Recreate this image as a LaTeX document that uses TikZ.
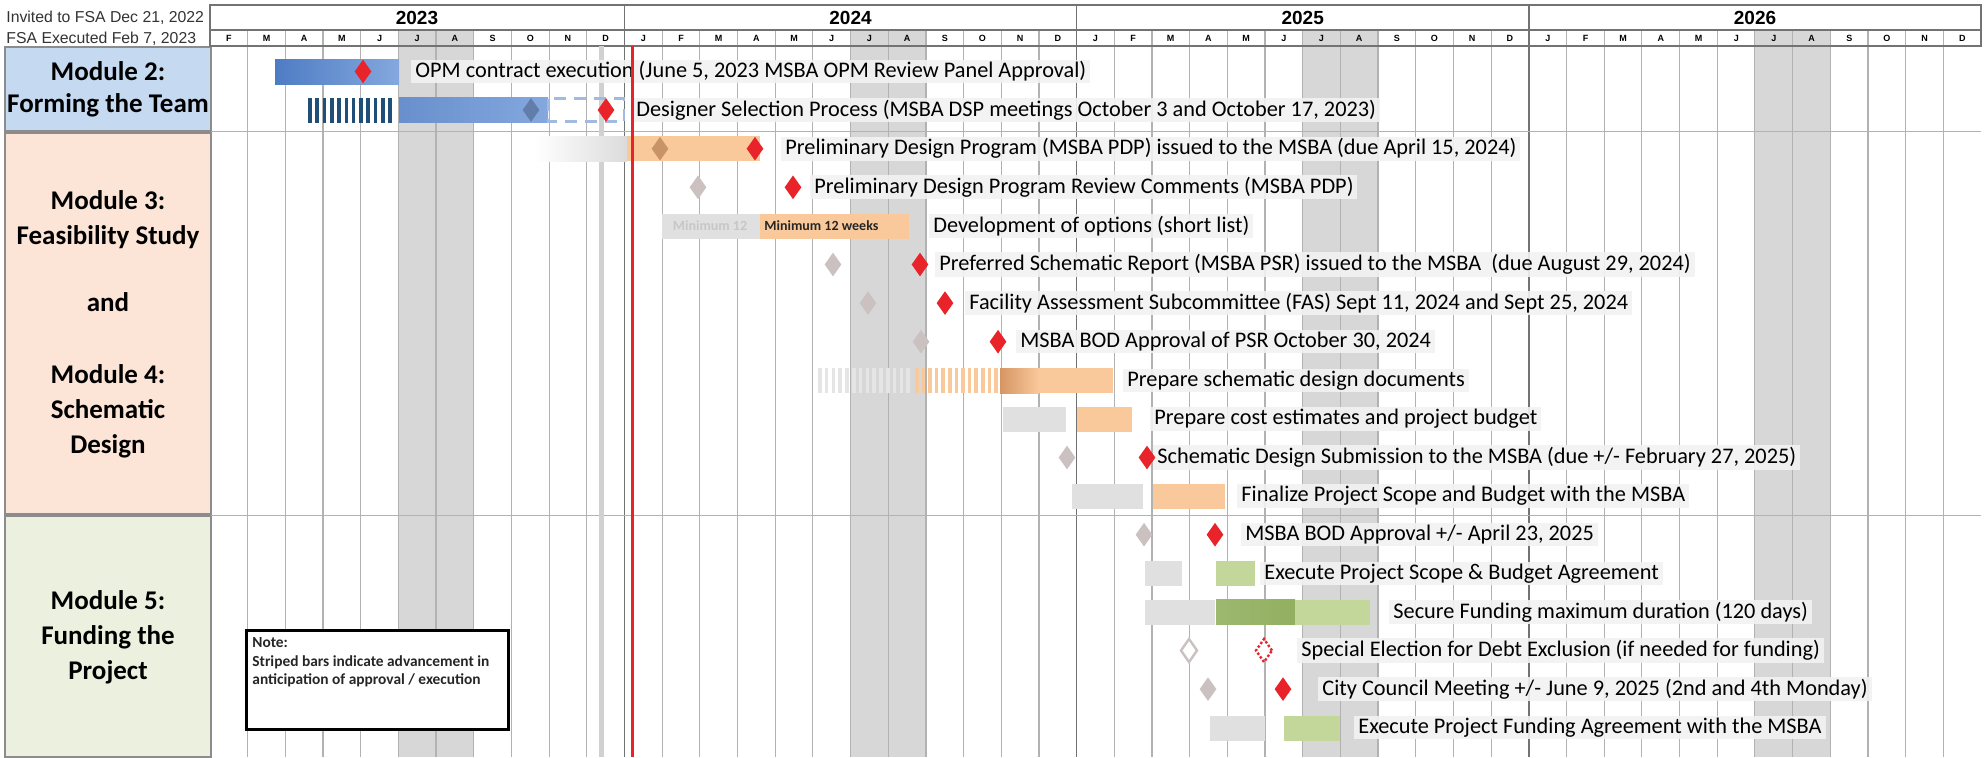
\documentclass[tikz,border=0pt]{standalone}
\usepackage{fontspec}
\setmainfont{Carlito}
\newfontfamily\hdrfont{Liberation Sans}
\usepackage{tikz}
\usetikzlibrary{shapes.geometric}

\definecolor{modblue}{RGB}{197,217,241}
\definecolor{modpeach}{RGB}{252,229,214}
\definecolor{modgreen}{RGB}{235,241,222}
\definecolor{barblue}{RGB}{78,124,196}
\definecolor{barbluelt}{RGB}{132,168,222}
\definecolor{stripeblue}{RGB}{31,78,121}
\definecolor{dashblue}{RGB}{160,186,224}
\definecolor{barorange}{RGB}{249,200,155}
\definecolor{barorangedk}{RGB}{214,150,100}
\definecolor{bargreen}{RGB}{196,215,155}
\definecolor{bargreendk}{RGB}{146,176,96}
\definecolor{milered}{RGB}{232,35,42}
\definecolor{milegray}{RGB}{204,193,193}
\definecolor{summer}{RGB}{215,215,215}

\tikzstyle{modtext} = [align=center, font=\bfseries\fontsize{13.5}{17.5}\selectfont]
\tikzstyle{yearlabel} = [font=\hdrfont\bfseries\fontsize{9.5}{10}\selectfont]
\tikzstyle{monlabel} = [font=\hdrfont\bfseries\fontsize{4.5}{5}\selectfont]
\tikzstyle{hdrnote} = [anchor=west, font=\hdrfont\fontsize{7.9}{8}\selectfont, text=black!80, inner sep=0pt]
\tikzstyle{tasklabel} = [anchor=west, fill=black!5, fill opacity=0.9, text opacity=1, inner xsep=2pt, inner ysep=1pt, font=\fontsize{11.15}{12}\selectfont, text=black]
\tikzstyle{redmile} = [diamond, fill=milered, minimum width=8.5pt, minimum height=12pt, inner sep=0pt]
\tikzstyle{graymile} = [diamond, fill=milegray, minimum width=8.5pt, minimum height=12pt, inner sep=0pt]
\tikzstyle{oldbar} = [fill=black!12]
\tikzstyle{gridline} = [black!30, line width=0.6pt]

\begin{document}
\begin{tikzpicture}[x=0.5pt, y=-0.5pt]
    \useasboundingbox (0,0) rectangle (1986,757);
    \fill[white] (0,0) rectangle (1986,757);

    % module column
    \draw[fill=modblue, draw=black!45, line width=1pt] (5,47) rectangle (211,131);
    \draw[fill=modpeach, draw=black!45, line width=1pt] (5,133) rectangle (211,514);
    \draw[fill=modgreen, draw=black!45, line width=1pt] (5,516) rectangle (211,757);
    \node[modtext, font=\bfseries\fontsize{13.5}{16}\selectfont] (mod2) at (108,89) {Module 2:\\Forming the Team};
    \node[modtext] (mod34) at (108,324) {Module 3:\\Feasibility Study\\[16pt]and\\[18.5pt]Module 4:\\Schematic\\Design};
    \node[modtext] (mod5) at (108,637) {Module 5:\\Funding the\\Project};

    % summer months and grid
    \foreach \xs in {398.4, 850.5, 1302.7, 1754.9}
        \fill[summer] (\xs,30) rectangle +(75.4,727);
    \foreach \m in {2,...,47}
        \draw[gridline] ({172.3+37.68*\m},30) -- ({172.3+37.68*\m},757);
    \foreach \xs in {624.5, 1076.5, 1529}
        \draw[black!55, line width=0.8pt] (\xs,5) -- (\xs,757);
    \draw[black!30, line width=0.5pt] (211,131) -- (1981,131);
    \draw[black!30, line width=0.5pt] (211,515) -- (1981,515);

    % header
    \draw[black!55, line width=0.8pt] (210,5) rectangle (1981,30);
    \draw[black!55, line width=0.8pt] (210,30) rectangle (1981,46);
    \node[hdrnote] (invited) at (6,18) {Invited to FSA Dec 21, 2022};
    \node[hdrnote] (executed) at (6,38.5) {FSA Executed Feb 7, 2023};
    \node[yearlabel] (y2023) at (417,17.5) {2023};
    \node[yearlabel] (y2024) at (850.5,17.5) {2024};
    \node[yearlabel] (y2025) at (1302.7,17.5) {2025};
    \node[yearlabel] (y2026) at (1755,17.5) {2026};
    \foreach \m [count=\i] in {F,M,A,M,J,J,A,S,O,N,D}
        \node[monlabel] (m23-\i) at ({210+37.68*(\i-0.5)},38.5) {\m};
    \foreach \yr/\xs in {24/624.5, 25/1076.5, 26/1529}
        \foreach \m [count=\i] in {J,F,M,A,M,J,J,A,S,O,N,D}
            \node[monlabel] (m\yr-\i) at ({\xs+37.68*(\i-0.5)},38.5) {\m};

    % today marks
    \draw[black!18, line width=2.5pt] (601,46) -- (601,757);

    % Module 2 bars
    \shade[left color=barblue, right color=barbluelt] (275,59) rectangle (399,84);
    \foreach \i in {0,...,11}
        \fill[stripeblue] ({308+\i*7.3},97.5) rectangle +(3.6,25);
    \shade[left color=barblue!85, right color=barbluelt] (399,97.5) rectangle (548,122.5);
    \draw[dashblue, line width=1.2pt, dash pattern=on 6pt off 4pt] (548,98.5) rectangle (624,121.5);

    % Module 3 / 4 bars
    \shade[left color=white, right color=black!14] (535,136) rectangle (627,161);
    \fill[barorange] (627,136) rectangle (760,161);
    \fill[oldbar] (662,213.5) rectangle (760,238.5);
    \node[font=\bfseries\fontsize{7}{8}\selectfont, text=black!22] (oldmin) at (710,226) {Minimum 12};
    \fill[barorange] (760,213.5) rectangle (909,238.5);
    \node[anchor=west, font=\bfseries\fontsize{7}{8}\selectfont, text=black!85, inner sep=0pt] (minweeks) at (764,226) {Minimum 12 weeks};
    \foreach \i in {0,...,13}
        \fill[black!10] ({818+\i*6.8},368) rectangle +(3.5,25);
    \foreach \i in {0,...,12}
        \fill[barorange] ({915+\i*6.6},368) rectangle +(3.5,25);
    \shade[left color=barorangedk, right color=barorange] (1000,368) rectangle (1039,393);
    \fill[barorange] (1039,368) rectangle (1113,393);
    \fill[oldbar] (1003,406.5) rectangle (1066,431.5);
    \fill[barorange] (1077,406.5) rectangle (1132,431.5);
    \fill[oldbar] (1072,483.5) rectangle (1143,508.5);
    \fill[barorange] (1153,483.5) rectangle (1225,508.5);

    % Module 5 bars
    \fill[oldbar] (1145,560.5) rectangle (1182,585.5);
    \fill[bargreen] (1216,560.5) rectangle (1255,585.5);
    \fill[oldbar] (1145,599.5) rectangle (1215,624.5);
    \shade[left color=bargreendk!90, right color=bargreendk] (1216,599.5) rectangle (1295,624.5);
    \fill[bargreen] (1295,599.5) rectangle (1370,624.5);
    \fill[oldbar] (1210,715.5) rectangle (1265,740.5);
    \fill[bargreen] (1284,715.5) rectangle (1340,740.5);

    % task labels
    \node[tasklabel] (opm) at (411,71.5) {OPM contract execution (June 5, 2023 MSBA OPM Review Panel Approval)};
    \node[tasklabel] (dsp) at (632,110) {Designer Selection Process (MSBA DSP meetings October 3 and October 17, 2023)};
    \node[tasklabel] (pdp) at (781,148.7) {Preliminary Design Program (MSBA PDP) issued to the MSBA (due April 15, 2024)};
    \node[tasklabel] (pdprev) at (810,187.3) {Preliminary Design Program Review Comments (MSBA PDP)};
    \node[tasklabel] (options) at (929,225.9) {Development of options (short list)};
    \node[tasklabel] (psr) at (935,264.5) {Preferred Schematic Report (MSBA PSR) issued to the MSBA\ \ (due August 29, 2024)};
    \node[tasklabel] (fas) at (965,303.1) {Facility Assessment Subcommittee (FAS) Sept 11, 2024 and Sept 25, 2024};
    \node[tasklabel] (bodpsr) at (1016,341.7) {MSBA BOD Approval of PSR October 30, 2024};
    \node[tasklabel] (sddocs) at (1123,380.3) {Prepare schematic design documents};
    \node[tasklabel] (cost) at (1150,418.9) {Prepare cost estimates and project budget};
    \node[tasklabel] (sdsub) at (1153,457.5) {Schematic Design Submission to the MSBA (due +/- February 27, 2025)};
    \node[tasklabel] (scope) at (1237,496.1) {Finalize Project Scope and Budget with the MSBA};
    \node[tasklabel] (bod25) at (1241,534.7) {MSBA BOD Approval +/- April 23, 2025};
    \node[tasklabel] (psba) at (1260,573.3) {Execute Project Scope \& Budget Agreement};
    \node[tasklabel] (secure) at (1389,611.9) {Secure Funding maximum duration (120 days)};
    \node[tasklabel] (election) at (1297,650.5) {Special Election for Debt Exclusion (if needed for funding)};
    \node[tasklabel] (council) at (1318,689.1) {City Council Meeting +/- June 9, 2025 (2nd and 4th Monday)};
    \node[tasklabel] (pfa) at (1354,727.7) {Execute Project Funding Agreement with the MSBA};

    % milestones
    \node[redmile] (opmmile) at (363,71.5) {};
    \node[graymile, fill=barblue!60!gray] (dspold) at (531,110) {};
    \node[redmile] (dspmile) at (606,110) {};
    \node[graymile, fill=barorangedk!85!gray] (pdpold) at (660,148.7) {};
    \node[redmile] (pdpmile) at (755,148.7) {};
    \node[graymile] (revold) at (698,187.3) {};
    \node[redmile] (revmile) at (793,187.3) {};
    \node[graymile] (psrold) at (833,264.5) {};
    \node[redmile] (psrmile) at (920,264.5) {};
    \node[graymile] (fasold) at (868,303.1) {};
    \node[redmile] (fasmile) at (945,303.1) {};
    \node[graymile] (bodold) at (921,341.7) {};
    \node[redmile] (bodmile) at (998,341.7) {};
    \node[graymile] (sdold) at (1067,457.5) {};
    \node[redmile] (sdmile) at (1147,457.5) {};
    \node[graymile] (bod25old) at (1144,534.7) {};
    \node[redmile] (bod25mile) at (1215,534.7) {};
    \node[graymile, fill=white, draw=milegray, line width=1.2pt] (elecold) at (1189,650.5) {};
    \node[redmile, fill=white, draw=milered, line width=1.2pt, densely dotted] (elecmile) at (1264,650.5) {};
    \node[graymile] (councilold) at (1208,689.1) {};
    \node[redmile] (councilmile) at (1283,689.1) {};

    % current date
    \draw[milered, line width=1.5pt] (632,46) -- (632,757);

    % note
    \draw[black, line width=1.5pt, fill=white] (246,630) rectangle (508,729);
    \node[anchor=north west, align=left, inner sep=0pt, font=\bfseries\fontsize{7.7}{9.3}\selectfont, text=black!85] (note) at (252,637) {Note:\\Striped bars indicate advancement in\\anticipation of approval / execution};
\end{tikzpicture}
\end{document}
